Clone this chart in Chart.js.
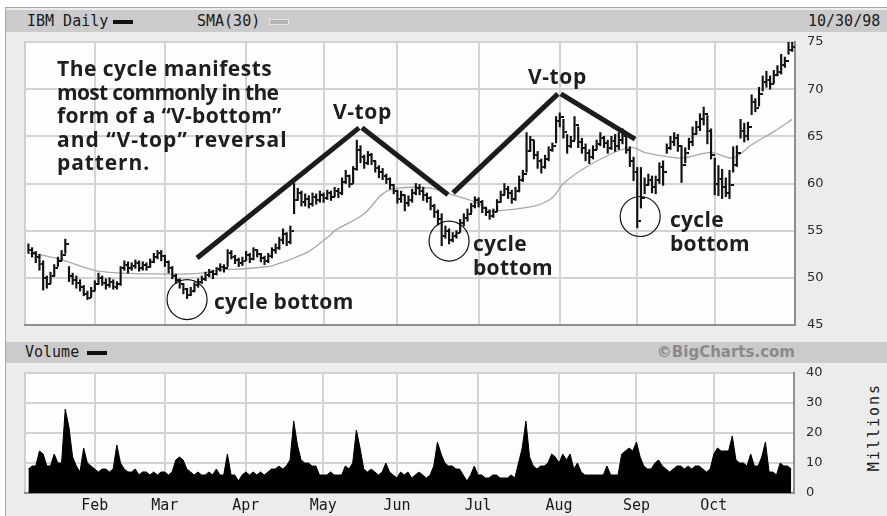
<!DOCTYPE html>
<html>
<head>
<meta charset="utf-8">
<title>IBM Daily</title>
<script src="https://cdn.jsdelivr.net/npm/chart.js@4.4.1/dist/chart.umd.min.js"></script>
<style>
    html, body { margin: 0; padding: 0; background: #fff; }
    #page { position: relative; width: 887px; height: 516px; overflow: hidden; }
    #frame {
        position: absolute; left: 5px; top: 7px; right: 0; bottom: 0;
        background: #ececec;
        border-left: 1px solid #a4a4a4; border-top: 1px solid #a4a4a4;
    }
    .band { position: absolute; left: 6px; right: 0; background: #cbcbcb; }
    .pix {
        position: absolute; white-space: nowrap;
        font-family: "DejaVu Sans Mono", monospace; font-size: 15px; color: #1a1a1a;
    }
    .swatch { position: absolute; height: 4px; }
    canvas { position: absolute; left: 0; top: 0; }
    .note {
        position: absolute; white-space: nowrap;
        font-family: "Open Sans", sans-serif; font-weight: 700;
        font-size: 21px; line-height: 23.5px; color: #1e1e1e;
        letter-spacing: 0.3px;
    }
</style>
</head>
<body>
<div id="page">
    <div id="frame"></div>

    <div class="band" style="top:10px;height:22px"></div>
    <div class="pix" style="left:27px;top:12px">IBM Daily</div>
    <div class="swatch" style="left:113px;top:20px;width:20px;background:#111"></div>
    <div class="pix" style="left:197px;top:12px">SMA(30)</div>
    <div class="swatch" style="left:269px;top:19px;width:18px;background:#b4b4b4;border:1px solid #e4e4e4"></div>
    <div class="pix" style="left:808px;top:12px">10/30/98</div>

    <div class="band" style="top:342px;height:21px"></div>
    <div class="pix" style="left:25px;top:343px">Volume</div>
    <div class="swatch" style="left:87px;top:351px;width:20px;background:#111"></div>
    <div id="credit" style="position:absolute;right:92px;top:343px;font:bold 15px 'DejaVu Sans';color:#8a8a8a">©BigCharts.com</div>

    <div class="pix" style="left:830px;top:418px;transform:rotate(-90deg);letter-spacing:2px">Millions</div>

    <canvas id="priceChart" width="887" height="516"></canvas>
    <canvas id="volumeChart" width="887" height="516"></canvas>

    <div class="note" style="left:57px;top:57px">
        <span style="letter-spacing:0.5px">The cycle manifests</span><br>
        <span style="letter-spacing:-0.7px">most commonly in the</span><br>
        <span>form of a “V-bottom”</span><br>
        <span style="letter-spacing:1px">and “V-top” reversal</span><br>
        <span style="letter-spacing:0.9px">pattern.</span>
    </div>
    <div class="note" style="left:333px;top:100px;letter-spacing:0.6px">V-top</div>
    <div class="note" style="left:528px;top:65px;letter-spacing:0.6px">V-top</div>
    <div class="note" style="left:214px;top:290px">cycle bottom</div>
    <div class="note" style="left:473px;top:232px">cycle<br>bottom</div>
    <div class="note" style="left:670px;top:208px">cycle<br>bottom</div>
</div>

<script>
// ===============================
//  DATA (IBM, Jan 5 - Oct 30 1998)
// ===============================
// x is the trading-day index counted from Jan 2 1998
const FIRST_DAY = 2;

const HIGHS = [
    53.6, 53.2, 52.8, 52.5, 51.8, 50.2, 50.6, 51.4, 52.2, 52.9,
    54.1, 51.2, 50.5, 50.2, 49.8, 49.2, 48.6, 49.0, 49.7, 50.5,
    50.2, 49.9, 50.0, 49.8, 49.6, 51.2, 51.8, 51.7, 51.6, 51.9,
    51.8, 51.7, 51.6, 52.0, 52.6, 52.9, 52.9, 52.4, 51.8, 51.2,
    50.4, 49.9, 49.4, 48.9, 49.0, 49.5, 49.9, 50.2, 50.6, 50.9,
    50.8, 51.1, 51.5, 51.4, 53.0, 52.9, 52.4, 52.1, 52.2, 52.8,
    52.6, 53.2, 53.0, 52.6, 52.3, 52.6, 53.2, 53.6, 54.3, 55.2,
    54.8, 55.5, 60.0, 59.5, 59.2, 58.9, 58.7, 59.0, 58.9, 59.2,
    59.0, 59.3, 59.2, 59.6, 59.5, 60.6, 61.4, 60.9, 61.8, 64.6,
    64.0, 63.0, 63.4, 63.2, 62.4, 61.9, 61.6, 61.0, 60.6, 59.9,
    59.3, 59.2, 58.8, 58.7, 59.4, 60.0, 59.9, 59.6, 59.0, 58.6,
    57.8, 57.2, 56.8, 55.5, 55.2, 54.8, 55.0, 56.2, 56.8, 57.3,
    57.9, 58.6, 58.5, 58.2, 57.5, 57.2, 57.3, 58.3, 59.2, 60.0,
    59.7, 59.3, 59.6, 60.8, 61.4, 65.4, 65.0, 64.6, 63.4, 62.6,
    63.0, 63.9, 64.3, 67.1, 67.5, 66.8, 65.2, 65.0, 67.1, 66.0,
    64.8, 64.2, 63.6, 64.0, 64.6, 65.4, 65.0, 64.6, 65.0, 65.2,
    65.4, 65.8, 65.2, 63.9, 62.8, 61.7, 61.7, 60.6, 61.0, 60.8,
    60.8, 62.2, 62.4, 64.2, 65.0, 65.4, 65.2, 64.0, 63.8, 64.8,
    66.0, 66.6, 67.4, 68.1, 67.2, 65.8, 62.7, 61.9, 61.5, 60.6,
    61.4, 63.9, 64.0, 66.8, 66.4, 66.5, 69.4, 69.0, 70.2, 71.4,
    71.9, 71.4, 72.0, 72.5, 73.7, 73.4, 75.0, 75.0
];

const LOWS = [
    52.6, 52.2, 51.6, 50.8, 48.7, 48.9, 49.4, 50.2, 51.2, 51.8,
    52.6, 49.6, 49.3, 48.9, 48.6, 48.1, 47.7, 47.9, 48.6, 49.3,
    49.2, 48.8, 49.0, 48.8, 48.8, 49.2, 50.8, 50.5, 50.8, 51.0,
    50.7, 50.8, 50.8, 51.1, 51.6, 52.0, 51.8, 51.2, 50.5, 49.9,
    49.4, 48.9, 48.3, 47.8, 48.1, 48.5, 49.0, 49.4, 49.7, 50.1,
    49.9, 50.3, 50.7, 50.6, 51.2, 52.0, 51.5, 51.2, 51.3, 51.8,
    51.6, 51.9, 52.2, 51.7, 51.4, 51.6, 52.1, 52.6, 53.0, 53.6,
    53.4, 53.6, 56.8, 58.2, 57.6, 57.6, 57.4, 57.6, 57.8, 58.0,
    58.0, 58.3, 58.2, 58.6, 58.5, 58.8, 60.0, 59.6, 60.0, 61.4,
    62.2, 61.6, 62.0, 62.0, 61.2, 60.6, 60.4, 60.0, 59.4, 58.9,
    57.9, 58.0, 57.1, 57.6, 58.0, 58.8, 58.8, 58.2, 58.0, 57.2,
    56.4, 55.6, 53.4, 54.2, 53.6, 53.8, 54.2, 54.8, 55.5, 56.0,
    56.9, 57.4, 57.5, 56.9, 56.6, 56.2, 56.4, 57.0, 58.0, 58.8,
    58.4, 57.9, 58.2, 59.1, 60.2, 61.2, 63.4, 62.6, 61.6, 61.1,
    61.6, 62.4, 63.4, 64.3, 66.0, 64.8, 63.2, 63.8, 64.6, 63.8,
    63.2, 62.4, 62.1, 62.6, 63.6, 64.0, 63.8, 63.2, 63.6, 63.4,
    63.6, 64.2, 63.2, 61.8, 60.3, 55.3, 57.4, 58.9, 59.8, 59.0,
    58.9, 60.0, 59.8, 63.2, 63.6, 64.0, 63.4, 60.1, 62.2, 63.6,
    64.0, 65.2, 65.6, 66.2, 64.2, 62.6, 58.8, 58.7, 58.4, 58.6,
    58.4, 61.2, 61.8, 64.8, 64.4, 64.6, 67.3, 67.6, 68.2, 69.8,
    70.2, 70.0, 70.6, 71.4, 71.6, 72.3, 73.7, 74.0
];

const CLOSES = [
    53.0, 52.6, 52.2, 51.5, 50.0, 49.3, 50.2, 51.0, 51.8, 52.4,
    53.6, 50.2, 49.8, 49.4, 49.0, 48.3, 47.9, 48.6, 49.3, 50.0,
    49.5, 49.2, 49.6, 49.0, 49.3, 51.0, 51.4, 51.0, 51.3, 51.6,
    51.0, 51.4, 51.2, 51.7, 52.2, 52.6, 52.3, 51.7, 51.0, 50.2,
    49.8, 49.3, 48.8, 48.2, 48.6, 49.2, 49.6, 49.9, 50.3, 50.6,
    50.4, 50.9, 51.2, 51.0, 52.6, 52.2, 51.9, 51.6, 51.8, 52.4,
    52.0, 52.9, 52.5, 52.1, 51.8, 52.3, 52.9, 53.2, 54.0, 54.6,
    53.8, 55.0, 58.2, 59.0, 58.0, 58.4, 57.8, 58.6, 58.2, 58.8,
    58.5, 59.0, 58.6, 59.2, 59.0, 60.2, 60.8, 60.0, 61.5, 63.5,
    62.8, 62.2, 63.0, 62.4, 61.6, 61.2, 60.8, 60.5, 59.8, 59.2,
    58.4, 58.8, 57.9, 58.3, 59.0, 59.5, 59.2, 58.8, 58.5, 57.6,
    57.0, 56.2, 54.4, 55.0, 54.0, 54.4, 54.8, 55.8, 56.3, 56.8,
    57.6, 58.2, 58.0, 57.4, 57.0, 56.6, 57.0, 58.0, 58.8, 59.4,
    59.0, 58.4, 59.2, 60.4, 61.0, 63.4, 64.6, 63.0, 62.4, 61.8,
    62.6, 63.6, 64.0, 66.6, 67.0, 65.5, 64.0, 64.5, 66.2, 64.4,
    63.8, 63.2, 62.8, 63.5, 64.2, 64.8, 64.3, 63.8, 64.5, 64.0,
    64.6, 65.0, 63.6, 62.4, 61.2, 56.0, 58.5, 59.8, 60.4, 59.6,
    60.4, 61.8, 61.2, 63.8, 64.4, 64.8, 64.0, 62.0, 63.2, 64.4,
    65.2, 66.0, 66.8, 67.4, 65.6, 63.0, 60.0, 60.5, 59.6, 59.0,
    59.8, 62.0, 63.2, 65.6, 65.0, 66.0, 68.6, 68.0, 69.5, 70.8,
    71.0, 70.6, 71.5, 71.8, 72.6, 73.0, 74.2, 74.5
];

// millions of shares
const VOLUMES = [
    8, 9, 9, 14, 13, 9, 9, 13, 10, 10,
    28, 22, 12, 9, 7, 15, 10, 9, 8, 7,
    8, 8, 7, 8, 16, 10, 8, 7, 7, 8,
    6, 7, 7, 6, 7, 6, 7, 7, 6, 7,
    11, 12, 11, 8, 7, 6, 7, 6, 6, 7,
    6, 8, 6, 6, 13, 6, 6, 4, 6, 7,
    6, 7, 6, 7, 6, 7, 8, 8, 9, 8,
    9, 11, 24, 16, 11, 10, 10, 9, 9, 6,
    6, 6, 7, 6, 6, 6, 9, 8, 10, 21,
    15, 8, 7, 8, 7, 6, 7, 10, 7, 6,
    5, 7, 6, 7, 5, 6, 7, 6, 5, 6,
    9, 17, 13, 10, 9, 9, 8, 8, 6, 4,
    6, 9, 6, 6, 5, 5, 6, 6, 5, 5,
    5, 6, 5, 10, 15, 24, 12, 9, 8, 9,
    9, 10, 13, 12, 10, 13, 11, 13, 8, 10,
    7, 6, 6, 6, 6, 6, 6, 9, 6, 6,
    6, 13, 14, 15, 14, 17, 12, 9, 8, 8,
    10, 11, 9, 8, 7, 8, 9, 9, 8, 9,
    8, 9, 9, 8, 7, 8, 13, 15, 14, 14,
    14, 19, 11, 10, 10, 9, 13, 9, 9, 12,
    17, 7, 7, 6, 10, 9, 9, 8
];

// 30-day simple moving average
const SMA_DAYS = [
    2, 7, 12, 18, 21, 27, 40, 44, 49, 55, 58, 67, 69, 72, 74, 78, 84, 85, 93, 98,
    102, 111, 116, 124, 127, 129, 139, 144, 147, 153, 162, 166, 169, 179, 187, 193, 198, 204, 209
];
const SMA_VALUES = [
    52.6, 52.3, 51.8, 51.0, 50.7, 50.5, 50.4, 50.4, 50.5, 50.9, 50.9, 51.2, 51.4, 51.8, 52.1, 52.8, 54.6, 55.0, 56.8, 58.9,
    59.5, 59.5, 58.9, 57.9, 57.1, 57.1, 57.6, 58.5, 60.0, 61.7, 63.5, 63.8, 63.3, 62.7, 63.3, 62.7, 64.1, 65.5, 66.8
];

const MONTH_DAYS = [20, 39, 61, 82, 102, 124, 146, 167, 188];
const MONTH_LABELS = ["Feb", "Mar", "Apr", "May", "Jun", "Jul", "Aug", "Sep", "Oct"];
const PRICE_TICKS = [45, 50, 55, 60, 65, 70, 75];
const VOLUME_TICKS = [0, 10, 20, 30, 40];

// hand-drawn V lines, as [day, price] end points
const V_LINES = [
    [[47.7, 52.1], [91.6, 65.9]],
    [[92.4, 65.9], [115.7, 58.8]],
    [[117.1, 59.0], [145.5, 69.5]],
    [[146.3, 69.5], [166.4, 64.7]]
];

// circled cycle bottoms, [day, price]
const CYCLE_BOTTOMS = [[45, 47.7], [116, 53.9], [167.8, 56.5]];

// ===============================
//  SHARED BITS
// ===============================
const X_MIN = 1.08;
const X_MAX = 209.75;
const GRID = "#d3d3d3";
const EDGE = "#8e8e8e";

const days = HIGHS.map((_, k) => FIRST_DAY + k);

const plotFrame = {
    id: "plotFrame",
    beforeDraw(chart) {
        const { ctx, chartArea: a } = chart;
        ctx.save();
        ctx.fillStyle = "#fdfdfd";
        ctx.fillRect(a.left, a.top, a.width, a.height);
        ctx.strokeStyle = "#cfcfcf";
        ctx.lineWidth = 2;
        ctx.beginPath();
        ctx.moveTo(a.left, a.bottom);
        ctx.lineTo(a.left, a.top);
        ctx.lineTo(a.right, a.top);
        ctx.stroke();
        ctx.restore();
    }
};

function monthAxis(showLabels) {
    return {
        type: "linear",
        min: X_MIN,
        max: X_MAX,
        offset: false,
        afterBuildTicks: s => { s.ticks = MONTH_DAYS.map(v => ({ value: v })); },
        afterFit: s => { s.height = showLabels ? 23 : 0; },
        grid: { color: GRID, lineWidth: 2, drawTicks: false, offset: false },
        border: { color: EDGE, width: 2 },
        ticks: {
            display: showLabels,
            autoSkip: false,
            maxRotation: 0,
            padding: 4,
            color: "#1a1a1a",
            font: { family: "DejaVu Sans Mono", size: 15 },
            callback: v => MONTH_LABELS[MONTH_DAYS.indexOf(v)] || ""
        }
    };
}

function valueAxis(min, max, ticks, width) {
    return {
        position: "right",
        min,
        max,
        afterBuildTicks: s => { s.ticks = ticks.map(v => ({ value: v })); },
        afterFit: s => { s.width = width; },
        grid: { color: GRID, lineWidth: 2, drawTicks: false },
        border: { color: EDGE, width: 2 },
        ticks: {
            padding: 12,
            color: "#2a2a2a",
            font: { family: "DejaVu Sans", size: 13 }
        }
    };
}

// close tick: a short dash to the right of each bar
function closeTick() {
    const c = document.createElement("canvas");
    c.width = 8;
    c.height = 2;
    const g = c.getContext("2d");
    g.fillStyle = "#111";
    g.fillRect(5, 0, 3, 2);
    return c;
}

// ===============================
//  PRICE CHART
// ===============================
function buildPriceChart() {
    new Chart(document.getElementById("priceChart"), {
        type: "bar",
        data: {
            datasets: [
                {
                    type: "bar",
                    data: days.map((d, k) => ({ x: d, y: [LOWS[k], HIGHS[k]] })),
                    backgroundColor: "#111",
                    barThickness: 1.5,
                    order: 4
                },
                {
                    type: "scatter",
                    data: days.map((d, k) => ({ x: d, y: CLOSES[k] })),
                    pointStyle: closeTick(),
                    pointRadius: 3,
                    order: 3
                },
                {
                    type: "line",
                    data: SMA_DAYS.map((d, k) => ({ x: d, y: SMA_VALUES[k] })),
                    borderColor: "#a9a9a9",
                    borderWidth: 1.3,
                    pointRadius: 0,
                    tension: 0.3,
                    order: 5
                },
                ...V_LINES.map(seg => ({
                    type: "line",
                    data: seg.map(([x, y]) => ({ x, y })),
                    borderColor: "#1c1c1c",
                    borderWidth: 5,
                    borderCapStyle: "butt",
                    pointRadius: 0,
                    order: 2
                })),
                {
                    type: "bubble",
                    data: CYCLE_BOTTOMS.map(([x, y]) => ({ x, y, r: 20 })),
                    backgroundColor: "rgba(0,0,0,0)",
                    borderColor: "#111",
                    borderWidth: 1.2,
                    order: 1
                }
            ]
        },
        options: {
            responsive: false,
            animation: false,
            layout: { padding: { left: 25, top: 42, right: 0, bottom: 191 } },
            plugins: { legend: { display: false }, tooltip: { enabled: false } },
            scales: {
                x: monthAxis(false),
                y: valueAxis(45, 75, PRICE_TICKS, 92)
            }
        },
        plugins: [plotFrame]
    });
}

// ===============================
//  VOLUME CHART
// ===============================
function buildVolumeChart() {
    new Chart(document.getElementById("volumeChart"), {
        type: "line",
        data: {
            datasets: [{
                data: days.map((d, k) => ({ x: d, y: VOLUMES[k] })),
                borderColor: "#000",
                backgroundColor: "#000",
                borderWidth: 1,
                pointRadius: 0,
                fill: "origin"
            }]
        },
        options: {
            responsive: false,
            animation: false,
            layout: { padding: { left: 25, top: 373, right: 0, bottom: 0 } },
            plugins: { legend: { display: false }, tooltip: { enabled: false } },
            scales: {
                x: monthAxis(true),
                y: valueAxis(0, 40, VOLUME_TICKS, 93)
            }
        },
        plugins: [plotFrame]
    });
}

buildPriceChart();
buildVolumeChart();
</script>
</body>
</html>
